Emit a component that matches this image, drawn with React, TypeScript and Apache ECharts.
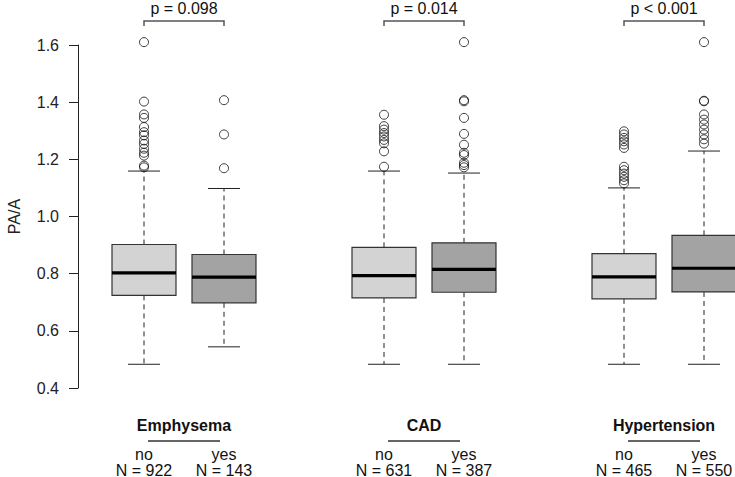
import React, { useEffect, useRef } from "react";
import * as echarts from "echarts";

const groups = ["Emphysema", "CAD", "Hypertension"];
const levels = ["no", "yes"];
const pLabels = ["p = 0.098", "p = 0.014", "p < 0.001"];
const nNo = [922, 631, 465];
const nYes = [143, 387, 550];

// [lower whisker, Q1, median, Q3, upper whisker]
const emphysemaNo = [0.483, 0.724, 0.803, 0.902, 1.159];
const emphysemaYes = [0.544, 0.698, 0.788, 0.867, 1.098];
const cadNo = [0.483, 0.715, 0.793, 0.892, 1.159];
const cadYes = [0.483, 0.735, 0.815, 0.908, 1.152];
const hypertensionNo = [0.483, 0.712, 0.789, 0.870, 1.100];
const hypertensionYes = [0.483, 0.736, 0.819, 0.934, 1.229];

const emphysemaNoOut = [1.61, 1.402, 1.357, 1.345, 1.313, 1.295, 1.284, 1.266, 1.254, 1.237, 1.223, 1.213, 1.178, 1.172];
const emphysemaYesOut = [1.407, 1.287, 1.169];
const cadNoOut = [1.356, 1.316, 1.304, 1.292, 1.28, 1.268, 1.256, 1.228, 1.174];
const cadYesOut = [1.61, 1.407, 1.403, 1.345, 1.289, 1.251, 1.223, 1.215, 1.188, 1.18, 1.172];
const hypertensionNoOut = [1.298, 1.287, 1.275, 1.263, 1.252, 1.24, 1.174, 1.162, 1.15, 1.139, 1.127, 1.116];
const hypertensionYesOut = [1.61, 1.405, 1.403, 1.357, 1.339, 1.322, 1.304, 1.287, 1.27, 1.255];

const yTicks = [0.4, 0.6, 0.8, 1.0, 1.2, 1.4, 1.6];

const boxStats = [emphysemaNo, emphysemaYes, cadNo, cadYes, hypertensionNo, hypertensionYes];
const outlierSets = [emphysemaNoOut, emphysemaYesOut, cadNoOut, cadYesOut, hypertensionNoOut, hypertensionYesOut];

const FONT = '"Liberation Sans", Arial, sans-serif';
const FS = 16;
const fills = ["#d3d3d3", "#a3a3a3"];

function posOf(i: number) {
  const g = Math.floor(i / 2);
  const l = i % 2;
  return g * 3 + l + 1;
}

export default function App() {
  const ref = useRef<HTMLDivElement>(null);
  useEffect(() => {
    document.body.style.margin = "0";
    if (!ref.current) return;
    const chart = echarts.init(ref.current, null, { renderer: "svg" });

    const boxData = boxStats.map((s, i) => [posOf(i), ...s, i % 2]);
    const outData: number[][] = [];
    outlierSets.forEach((arr, i) => arr.forEach((v) => outData.push([posOf(i), v])));
    const groupData = groups.map((g, i) => [i * 3 + 1.5, i]);

    const option: any = {
      animation: false,
      backgroundColor: "#ffffff",
      grid: {
        left: 104,
        right: 0,
        top: 45,
        height: 343,
        containLabel: false,
        outerBoundsMode: "none",
      },
      xAxis: { type: "value", min: 0.5, max: 8.3875, show: false },
      yAxis: {
        type: "value",
        min: yTicks[0],
        max: yTicks[yTicks.length - 1],
        interval: 0.2,
        offset: 26,
        name: "PA/A",
        nameLocation: "middle",
        nameGap: 56,
        nameRotate: 90,
        nameTextStyle: { fontSize: FS, fontFamily: FONT, color: "#222" },
        axisLine: { show: true, lineStyle: { color: "#222", width: 1 } },
        axisTick: { show: true, length: 9, lineStyle: { color: "#222" } },
        axisLabel: {
          margin: 19,
          fontSize: FS,
          fontFamily: FONT,
          color: "#222",
          formatter: (v: number) => v.toFixed(1),
        },
        splitLine: { show: false },
      },
      series: [
        {
          type: "custom",
          clip: false,
          data: boxData,
          encode: { x: 0, y: [1, 2, 3, 4, 5] },
          renderItem: (params: any, api: any) => {
            const x = api.value(0);
            const lo = api.coord([x, api.value(1)]);
            const q1 = api.coord([x, api.value(2)]);
            const md = api.coord([x, api.value(3)]);
            const q3 = api.coord([x, api.value(4)]);
            const hi = api.coord([x, api.value(5)]);
            const w = api.size([0.8, 0])[0];
            const cw = api.size([0.4, 0])[0];
            const cx = lo[0];
            const fill = fills[api.value(6)];
            const dash = { stroke: "#222", lineWidth: 1, lineDash: [5, 4] };
            const solid = { stroke: "#222", lineWidth: 1 };
            return {
              type: "group",
              children: [
                { type: "line", shape: { x1: cx, y1: q3[1], x2: cx, y2: hi[1] }, style: dash },
                { type: "line", shape: { x1: cx, y1: q1[1], x2: cx, y2: lo[1] }, style: dash },
                { type: "line", shape: { x1: cx - cw / 2, y1: hi[1], x2: cx + cw / 2, y2: hi[1] }, style: solid },
                { type: "line", shape: { x1: cx - cw / 2, y1: lo[1], x2: cx + cw / 2, y2: lo[1] }, style: solid },
                {
                  type: "rect",
                  shape: { x: cx - w / 2, y: q3[1], width: w, height: q1[1] - q3[1] },
                  style: { fill, stroke: "#333", lineWidth: 1.2 },
                },
                { type: "line", shape: { x1: cx - w / 2, y1: md[1], x2: cx + w / 2, y2: md[1] }, style: { stroke: "#000", lineWidth: 3.2 } },
              ],
            };
          },
        },
        {
          type: "scatter",
          clip: false,
          data: outData,
          symbol: "circle",
          symbolSize: 9,
          itemStyle: { color: "rgba(255,255,255,0)", borderColor: "#111", borderWidth: 1 },
        },
        {
          type: "custom",
          clip: false,
          data: groupData,
          encode: { x: 0 },
          renderItem: (params: any, api: any) => {
            const x = api.value(0);
            const gi = api.value(1);
            const top = api.coord([x, yTicks[yTicks.length - 1]])[1];
            const bot = api.coord([x, yTicks[0]])[1];
            const left = api.coord([x - 0.5, 0])[0];
            const right = api.coord([x + 0.5, 0])[0];
            const mid = api.coord([x, 0])[0];
            const uw = api.size([0.9, 0])[0];
            const by = top - 24;
            const txt = (text: string, tx: number, ty: number, bold = false) => ({
              type: "text",
              style: {
                text,
                x: tx,
                y: ty,
                align: "center",
                verticalAlign: "middle",
                fontSize: FS,
                fontFamily: FONT,
                fontWeight: bold ? "bold" : "normal",
                fill: "#111",
              },
            });
            return {
              type: "group",
              children: [
                {
                  type: "polyline",
                  shape: { points: [[left, by + 5], [left, by], [right, by], [right, by + 5]] },
                  style: { stroke: "#555", lineWidth: 1.5, fill: "none" },
                },
                txt(pLabels[gi], mid, top - 37),
                txt(groups[gi], mid, bot + 37, true),
                {
                  type: "line",
                  shape: { x1: mid - uw / 2, y1: bot + 53, x2: mid + uw / 2, y2: bot + 53 },
                  style: { stroke: "#666", lineWidth: 1.8 },
                },
                txt(levels[0], left, bot + 66),
                txt(levels[1], right, bot + 66),
                txt("N = " + nNo[gi], left, bot + 82),
                txt("N = " + nYes[gi], right, bot + 82),
              ],
            };
          },
        },
      ],
    };
    chart.setOption(option);
    return () => chart.dispose();
  }, []);
  return <div ref={ref} style={{ width: 735, height: 477 }} />;
}
